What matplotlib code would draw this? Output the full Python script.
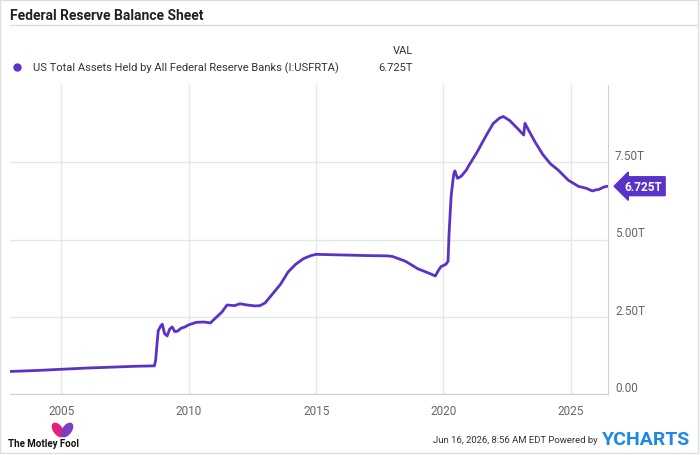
import matplotlib
matplotlib.use("Agg")
import matplotlib.pyplot as plt
from matplotlib.patches import Rectangle, Ellipse
from matplotlib.lines import Line2D

# Fed total assets (trillions USD)
dates = [2003.0, 2004.0, 2005.0, 2006.0, 2007.0, 2008.0, 2008.65, 2008.70, 2008.75,
         2008.80, 2008.90, 2008.96, 2009.05, 2009.15, 2009.25, 2009.35, 2009.45,
         2009.55, 2009.70, 2009.85, 2010.0, 2010.3, 2010.6, 2010.85, 2011.0, 2011.3,
         2011.5, 2011.8, 2012.0, 2012.3, 2012.6, 2012.8, 2013.0, 2013.3, 2013.6,
         2013.9, 2014.2, 2014.5, 2014.8, 2015.0, 2016.0, 2017.0, 2017.8, 2018.0,
         2018.5, 2019.0, 2019.4, 2019.68, 2019.78, 2019.9, 2020.1, 2020.18, 2020.22,
         2020.30, 2020.40, 2020.45, 2020.55, 2020.7, 2020.9, 2021.0, 2021.3, 2021.5,
         2021.7, 2021.95, 2022.2, 2022.35, 2022.6, 2022.9, 2023.15, 2023.2, 2023.4,
         2023.6, 2023.9, 2024.2, 2024.5, 2024.9, 2025.3, 2025.6, 2025.85, 2025.95,
         2026.1, 2026.3, 2026.45]
assets = [0.73, 0.76, 0.80, 0.84, 0.87, 0.90, 0.91, 1.10, 1.60,
          2.05, 2.20, 2.26, 1.95, 1.88, 2.10, 2.17, 2.02,
          2.03, 2.13, 2.17, 2.24, 2.32, 2.33, 2.30, 2.42, 2.65,
          2.88, 2.86, 2.92, 2.88, 2.85, 2.86, 2.95, 3.25, 3.55,
          3.95, 4.20, 4.38, 4.48, 4.52, 4.50, 4.48, 4.47, 4.45,
          4.30, 4.05, 3.92, 3.82, 3.97, 4.12, 4.20, 4.30, 5.20,
          6.40, 7.10, 7.22, 6.98, 7.05, 7.25, 7.40, 7.80, 8.10,
          8.40, 8.75, 8.93, 8.98, 8.85, 8.60, 8.38, 8.76, 8.45,
          8.15, 7.75, 7.45, 7.25, 6.92, 6.72, 6.66, 6.57, 6.60,
          6.62, 6.70, 6.725]

year_ticks = [2005, 2010, 2015, 2020, 2025]
value_ticks = [0, 2.5, 5.0, 7.5]
value_labels = ["0.00", "2.50T", "5.00T", "7.50T"]
last_label = "6.725T"

purple = "#5b32c8"
grid_c = "#e6e6e6"
text_c = "#666666"

plt.rcParams["font.family"] = ["Roboto", "DejaVu Sans"]

fig = plt.figure(figsize=(7, 4.56), dpi=100)
ax = fig.add_axes([10/700, 61/456, 598/700, 309/456])

ax.plot(dates, assets, color=purple, linewidth=2, solid_capstyle="round")
ax.set_xlim(2002.98, 2026.46)
ax.set_ylim(0, 10.0)

ax.set_xticks(year_ticks)
ax.set_yticks(value_ticks)
ax.set_yticklabels(value_labels)
ax.yaxis.tick_right()
ax.tick_params(axis="both", length=0, colors=text_c, labelsize=8.5)
ax.tick_params(axis="x", pad=7)
ax.tick_params(axis="y", pad=5)
for lab in ax.get_yticklabels():
    lab.set_va("bottom")

ax.grid(True, color=grid_c, linewidth=1)
ax.set_axisbelow(True)
for side in ["top", "left"]:
    ax.spines[side].set_visible(False)
for side in ["bottom", "right"]:
    ax.spines[side].set_color("#d0d0d0")

# current value tag
ax.annotate(last_label, xy=(dates[-1], assets[-1]), xytext=(12, 0),
            textcoords="offset points", va="center", ha="left",
            color="white", fontsize=8.5, fontweight="bold",
            bbox=dict(boxstyle="larrow,pad=0.25", fc=purple, ec=purple),
            annotation_clip=False)

# header
fig.text(10/700, 1 - 16/456, "Federal Reserve Balance Sheet", fontsize=10,
         fontweight="bold", va="center", color="#222222")
fig.add_artist(Line2D([10/700, 698/700], [1 - 26/456, 1 - 26/456],
                      color="#dddddd", linewidth=1))
fig.add_artist(Line2D([17/700], [1 - 68/456], marker="o", markersize=5,
                      color=purple, linestyle="none"))
fig.text(33/700, 1 - 68/456, "US Total Assets Held by All Federal Reserve Banks (I:USFRTA)",
         fontsize=8, va="center", color="#333333")
fig.text(413/700, 1 - 51/456, "VAL", fontsize=8, va="center", ha="right", color="#333333")
fig.text(413/700, 1 - 68/456, last_label, fontsize=8, va="center", ha="right", color="#333333")

# footer
fig.add_artist(Ellipse((58/700, 1 - 431/456), 9/700, 14/456, angle=20, color="#e4217a"))
fig.add_artist(Ellipse((67/700, 1 - 431/456), 9/700, 14/456, angle=-20, color="#7b3fc0"))
fig.text(8/700, 1 - 444/456, "The Motley Fool", fontsize=7, fontweight="bold",
         va="center", color="#111111")
fig.text(598/700, 1 - 441/456, "Jun 16, 2026, 8:56 AM EDT Powered by", fontsize=6.8,
         va="center", ha="right", color="#333333")
fig.text(602/700, 1 - 440/456, "YCHARTS", fontsize=14, fontweight="bold",
         va="center", ha="left", color="#1e88e5")

fig.add_artist(Rectangle((0, 0.004), 0.997, 0.994, fill=False, ec="#dddddd",
                         linewidth=1, transform=fig.transFigure))

fig.savefig("out.png", dpi=100)
